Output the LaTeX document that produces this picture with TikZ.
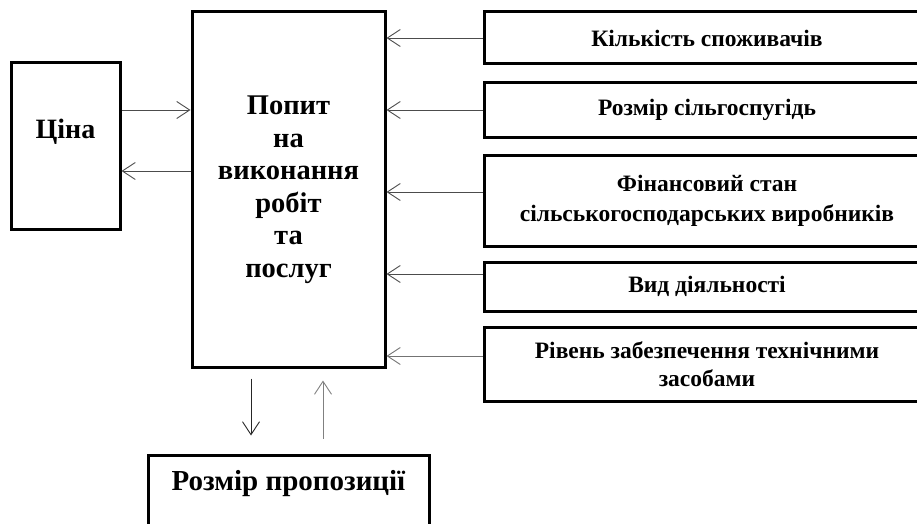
\documentclass[tikz,border=0pt]{standalone}
\usepackage{fontspec}
\setmainfont{Liberation Serif}
\usetikzlibrary{arrows.meta}

\begin{document}
\begin{tikzpicture}[x=1pt,y=-1pt,
    box/.style={draw, line width=3pt, align=center, inner sep=0pt},
    factor/.style={box, minimum width=446pt, font=\fontsize{23.5}{30}\selectfont\bfseries},
    arr/.style={-{Straight Barb[length=13pt,width=17pt]}, line width=0.9pt, black!70}]
    \useasboundingbox (0,0) rectangle (917,524);
    \clip (0,0) rectangle (917,524);

    % Main block
    \node[box, minimum width=193pt, minimum height=355pt,
          font=\fontsize{28.5}{32.5}\selectfont\bfseries] (popyt) at (288.5,189.5)
          {Попит\\на\\виконання\\робіт\\та\\послуг};

    % Price
    \node[box, minimum width=109pt, minimum height=166pt] (cina) at (65.5,146) {};
    \node[font=\fontsize{28}{32}\selectfont\bfseries] (cinatext) at (65.5,132) {Ціна};

    % Supply
    \node[box, minimum width=281pt, minimum height=110pt] (propoz) at (288.5,510) {};
    \node[font=\fontsize{29}{32}\selectfont\bfseries] (propoztext) at (288.5,484) {Розмір пропозиції};

    % Factors
    \node[factor, minimum height=52pt] (f1) at (707,38) {Кількість споживачів};
    \node[factor, minimum height=54pt] (f2) at (707,110) {Розмір сільгоспугідь};
    \node[factor, minimum height=91pt] (f3) at (707,200.5) {Фінансовий стан\\сільськогосподарських виробників};
    \node[factor, minimum height=49pt] (f4) at (707,286.5) {Вид діяльності};
    \node[factor, minimum height=74pt, font=\fontsize{23.5}{28}\selectfont\bfseries] (f5) at (707,364) {Рівень забезпечення технічними\\засобами};

    % Arrows to the main block
    \draw[arr] (f1.west) -- (f1.west -| popyt.east);
    \draw[arr] (f2.west) -- (f2.west -| popyt.east);
    \draw[arr] ([yshift=8.5pt]f3.west) -- ([yshift=8.5pt]f3.west -| popyt.east);
    \draw[arr] ([yshift=12.5pt]f4.west) -- ([yshift=12.5pt]f4.west -| popyt.east);
    \draw[arr, black!55] ([yshift=8pt]f5.west) -- ([yshift=8pt]f5.west -| popyt.east);

    % Price and demand
    \draw[arr] ([yshift=36pt]cina.east) -- ([yshift=36pt]cina.east -| popyt.west);
    \draw[arr] ([yshift=-25pt]cina.east -| popyt.west) -- ([yshift=-25pt]cina.east);

    % Demand and supply
    \draw[arr, black!85] ([xshift=-37.5pt,yshift=-10pt]popyt.south) -- ([xshift=-37.5pt,yshift=18pt]propoz.north);
    \draw[arr, black!50] ([xshift=34.5pt,yshift=15pt]propoz.north) -- ([xshift=34.5pt,yshift=-12pt]popyt.south);
\end{tikzpicture}
\end{document}
